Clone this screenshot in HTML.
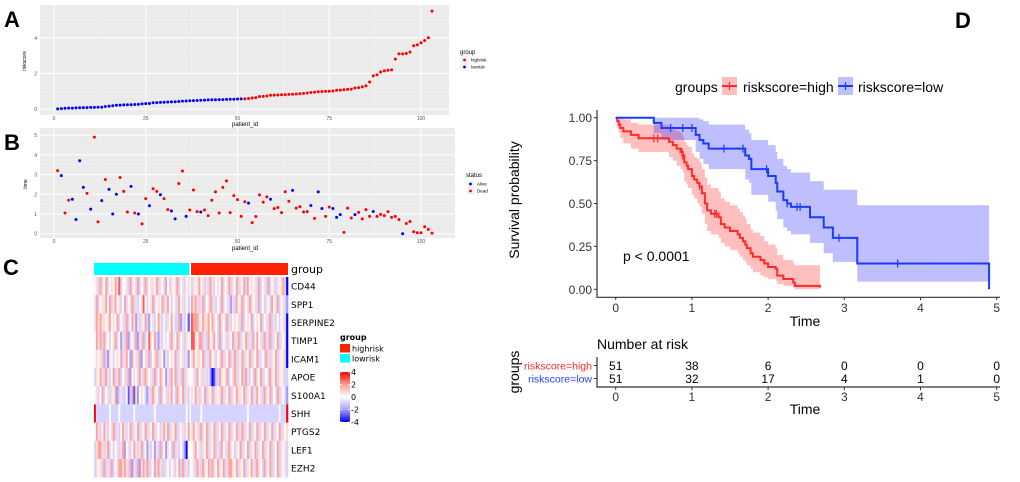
<!DOCTYPE html>
<html><head><meta charset="utf-8"><style>
html,body{margin:0;padding:0;background:#fff}
svg{display:block;font-family:"Liberation Sans",sans-serif}
</style></head><body>
<svg id="fig" width="1020" height="482" viewBox="0 0 1020 482" xmlns="http://www.w3.org/2000/svg">
<g id="gA"></g>
<g id="gB"></g>
<g id="gC"></g>
<g id="gD"></g>
</svg>
<script>
// ---------- Panel A data ----------
const riskLow=[0.01,0.02,0.04,0.05,0.05,0.06,0.07,0.08,0.08,0.09,0.09,0.10,0.10,0.14,0.16,0.18,0.21,0.22,0.23,0.24,0.24,0.25,0.26,0.29,0.30,0.31,0.35,0.36,0.37,0.38,0.39,0.40,0.41,0.42,0.44,0.45,0.46,0.47,0.48,0.49,0.50,0.51,0.52,0.52,0.53,0.53,0.54,0.55,0.55,0.56,0.57];
const riskHigh=[0.57,0.59,0.62,0.64,0.70,0.71,0.73,0.77,0.78,0.79,0.80,0.81,0.82,0.83,0.84,0.86,0.88,0.90,0.93,0.95,0.97,0.98,0.99,1.00,1.01,1.05,1.06,1.08,1.10,1.12,1.18,1.20,1.24,1.30,1.52,1.86,1.92,2.08,2.14,2.18,2.20,2.80,3.10,3.10,3.12,3.20,3.55,3.60,3.72,3.85,4.00,5.50];
const aYTicks=[0,2,4];
const xTicksPid=[0,25,50,75,100];
// ---------- Panel B data ----------
const bTime=[3.2,2.95,1.05,1.7,1.75,0.72,3.7,2.35,2.05,1.25,4.9,0.6,1.68,2.75,2.25,1.0,2.0,2.85,2.15,1.1,2.4,1.05,1.0,0.5,1.78,1.42,2.28,2.15,1.98,1.78,1.22,1.15,0.75,2.55,3.18,0.88,1.2,2.22,1.12,1.1,1.2,0.92,1.7,2.12,1.05,2.35,2.68,1.07,1.93,1.73,0.88,1.62,1.55,0.56,0.87,1.97,1.6,1.87,1.75,1.27,1.33,1.07,2.13,1.65,2.2,1.3,1.37,1.1,1.12,1.43,0.78,2.12,1.28,0.88,1.35,1.28,0.83,0.97,0.07,1.3,0.8,0.97,1.08,0.75,1.22,0.88,1.13,0.88,0.98,0.92,1.12,0.83,0.88,0.72,0.0,0.52,0.62,0.1,0.05,0.05,0.35,0.22,0.03];
const bStatus="DADDAAAADADDADAAADDDADADDADDADDAADDADDDADDDDDDDDDDDDADDDDDADDDDDADDDDADAADDAAADDDADDDDADDDDDDDADDDDDDD";
const bYTicks=[0,1,2,3,4,5];
// ---------- Panel C data ----------
const genes=["CD44","SPP1","SERPINE2","TIMP1","ICAM1","APOE","S100A1","SHH","PTGS2","LEF1","EZH2"];
const heatLow=[
"453654634546573445365436345634554635436435456345345",
"563455646356453463456353457434563454635643453645343",
"565655456454634536346525354632453465343546433625341",
"465636543456342536254362536347546325345436546345354",
"454536325434546356426453624536345635425345463545352",
"354653653463563453624543653654536346542536463536354",
"453463453546235334136152454325365436345356436546353",
"833333334333343333333433333333334333333333333333343",
"465346534563534653463546354635463543564635463545346",
"356653563434535624534653563425342536342543635343204",
"354536353634566565362536256563546365335434534636353"];
const heatHigh=[
"3545645353653454634563546354636454536345363453545630",
"6565356345635345634532536456345634536343543645634532",
"7666546556465436543653454536345463454634536353434530",
"7754663536456436345354635635463536464536536354635430",
"5645546353645345635463563546354635463543653546354530",
"4536453535201336545634563546365343654635436546354533",
"5465354635463545635463546554635463564536546345635432",
"3333343333333333333333333333334333333333333333343338",
"5645365463546354635463546356354635463546354635463545",
"4564535463546353645365435463546354635463546354635453",
"4536536546365465463566546354635465365436546354635453"];
const cbTicks=[4,2,0,-2,-4];
// ---------- Panel D data ----------
const redT=[0,0.02,0.04,0.06,0.1,0.2,0.3,0.7,0.75,0.8,0.85,0.88,0.9,0.93,0.95,1.0,1.03,1.07,1.1,1.13,1.17,1.2,1.25,1.35,1.38,1.43,1.5,1.6,1.63,1.67,1.7,1.72,1.77,1.8,1.9,1.95,2.0,2.1,2.12,2.2,2.33,2.35];
const redS=[1,.98,.96,.94,.92,.90,.88,.86,.84,.82,.80,.78,.74,.72,.70,.66,.64,.62,.60,.56,.50,.46,.44,.42,.38,.36,.34,.32,.30,.28,.26,.24,.21,.19,.17,.15,.13,.12,.08,.06,.04,.02];
const redU=[1,1,1,1,.99,.97,.96,.95,.93,.92,.91,.89,.86,.84,.83,.79,.77,.76,.74,.70,.65,.61,.59,.57,.53,.51,.49,.47,.45,.43,.41,.38,.35,.33,.31,.28,.26,.24,.20,.17,.15,.14];
const redL=[1,.94,.91,.88,.85,.82,.80,.77,.75,.72,.70,.68,.63,.61,.59,.55,.53,.50,.48,.44,.38,.34,.32,.30,.27,.25,.23,.21,.19,.17,.16,.14,.12,.10,.08,.07,.06,.05,.03,.02,.01,0];
const redEnd=2.68;
const redCens=[0.5,0.55,0.87,0.88,1.1,1.3,1.32];
const bluT=[0,0.5,0.6,1.05,1.1,1.15,1.22,1.7,1.75,1.78,2.0,2.1,2.12,2.2,2.25,2.3,2.55,2.73,2.85,3.17];
const bluS=[1,.97,.94,.90,.87,.85,.82,.78,.76,.70,.66,.62,.57,.52,.50,.48,.42,.36,.30,.15];
const bluU=[1,1,1,1,.99,.98,.96,.93,.91,.87,.84,.80,.76,.72,.70,.68,.63,.58,.58,.49];
const bluL=[1,.91,.87,.80,.76,.73,.70,.64,.62,.55,.51,.46,.41,.36,.34,.32,.27,.21,.16,.045];
const bluEnd=4.9;
const bluCens=[0.72,0.88,1.0,1.42,1.67,1.98,2.25,2.38,2.42,2.93,3.7];
const kmXTicks=[0,1,2,3,4,5];
const kmYTicks=[0,0.25,0.5,0.75,1];
const riskHighN=[51,38,6,0,0,0];
const riskLowN=[51,32,17,4,1,0];

const NS="http://www.w3.org/2000/svg";
function mk(parent,tag,attrs,txt){const e=document.createElementNS(NS,tag);for(const k in attrs)e.setAttribute(k,attrs[k]);if(txt!==undefined)e.textContent=txt;parent.appendChild(e);return e;}

// ===== Panel A =====
(function(){
const g=document.getElementById('gA');
const xA=p=>54+p*3.67, yA=v=>109-v*17.8;
const t=mk(g,'text',{x:4,y:27,'font-size':22,'font-weight':'bold'},'A');


const bg=mk(g,'rect',{x:40,y:5,width:409,height:110,fill:'#ebebeb'});


[12.5,37.5,62.5,87.5].forEach(p=>mk(g,'line',{x1:xA(p),x2:xA(p),y1:5,y2:115,stroke:'#f5f5f5','stroke-width':0.5}));
[1,3,5].forEach(v=>mk(g,'line',{x1:40,x2:449,y1:yA(v),y2:yA(v),stroke:'#f5f5f5','stroke-width':0.5}));
xTicksPid.forEach(p=>{mk(g,'line',{x1:xA(p),x2:xA(p),y1:5,y2:115,stroke:'#fff','stroke-width':1});
 const l=mk(g,'text',{x:xA(p),y:120,'font-size':5,fill:'#555','text-anchor':'middle'},p);
 
 });
aYTicks.forEach(v=>{mk(g,'line',{x1:40,x2:449,y1:yA(v),y2:yA(v),stroke:'#fff','stroke-width':1});
 const l=mk(g,'text',{x:37,y:yA(v)+2,'font-size':5,fill:'#555','text-anchor':'end'},v);
 
 });
const all=riskLow.concat(riskHigh);
all.forEach((v,i)=>{const c=mk(g,'circle',{cx:xA(i+1),cy:yA(v),r:1.5,fill:i<riskLow.length?'#0000ff':'#ff0000'});
 
 });
const xl=mk(g,'text',{x:245,y:126,'font-size':6,'text-anchor':'middle'},'patient_id');


const yl=mk(g,'text',{x:0,y:0,'font-size':5,'text-anchor':'middle',transform:'translate(26,61) rotate(-90)'},'riskscore');


const lt=mk(g,'text',{x:460,y:54,'font-size':6},'group');


[['highrisk','#ff0000',60],['lowrisk','#0000ff',67]].forEach(([n,c,y])=>{
 mk(g,'rect',{x:461,y:y-3.5,width:7,height:7,fill:'#f2f2f2'});
 mk(g,'circle',{cx:464.5,cy:y,r:1.4,fill:c});
 const e=mk(g,'text',{x:471,y:y+1.7,'font-size':4.5},n);
 
 });
})();

// ===== Panel B =====
(function(){
const g=document.getElementById('gB');
const xB=p=>54+p*3.67, yB=v=>233.7-v*19.7;
const t=mk(g,'text',{x:4,y:150,'font-size':22,'font-weight':'bold'},'B');


const bg=mk(g,'rect',{x:40,y:128,width:415,height:110,fill:'#ebebeb'});


[12.5,37.5,62.5,87.5].forEach(p=>mk(g,'line',{x1:xB(p),x2:xB(p),y1:128,y2:238,stroke:'#f5f5f5','stroke-width':0.5}));
[0.5,1.5,2.5,3.5,4.5].forEach(v=>mk(g,'line',{x1:40,x2:455,y1:yB(v),y2:yB(v),stroke:'#f5f5f5','stroke-width':0.5}));
xTicksPid.forEach(p=>{mk(g,'line',{x1:xB(p),x2:xB(p),y1:128,y2:238,stroke:'#fff','stroke-width':1});
 const l=mk(g,'text',{x:xB(p),y:243,'font-size':5,fill:'#555','text-anchor':'middle'},p);
 
 });
bYTicks.forEach(v=>{mk(g,'line',{x1:40,x2:455,y1:yB(v),y2:yB(v),stroke:'#fff','stroke-width':1});
 const l=mk(g,'text',{x:37,y:yB(v)+2,'font-size':5,fill:'#555','text-anchor':'end'},v);
 
 });
bTime.forEach((v,i)=>{const c=mk(g,'circle',{cx:xB(i+1),cy:yB(v),r:1.5,fill:bStatus[i]==='A'?'#0000ff':'#ff0000'});
 
 });
const xl=mk(g,'text',{x:245,y:250,'font-size':6,'text-anchor':'middle'},'patient_id');


const yl=mk(g,'text',{x:0,y:0,'font-size':5,'text-anchor':'middle',transform:'translate(27,184) rotate(-90)'},'time');


const lt=mk(g,'text',{x:466,y:177,'font-size':6},'status');


[['Alive','#0000ff',184],['Dead','#ff0000',191]].forEach(([n,c,y])=>{
 mk(g,'rect',{x:467,y:y-3.5,width:7,height:7,fill:'#f2f2f2'});
 mk(g,'circle',{cx:470.5,cy:y,r:1.4,fill:c});
 const e=mk(g,'text',{x:477,y:y+1.7,'font-size':4.5},n);
 
 });
})();

// ===== Panel C =====
(function(){
const g=document.getElementById('gC');
const t=mk(g,'text',{x:3,y:275,'font-size':22,'font-weight':'bold'},'C');


function col(v){v=Math.max(-4,Math.min(4,v));const f=Math.pow(Math.abs(v)/4,1.5);
 if(v>=0){const gg=Math.round(250*(1-f)),bb=Math.round(248*(1-f));return `rgb(255,${gg},${bb})`;}
 const r=Math.round(245*(1-f)),gg=Math.round(242*(1-f));return `rgb(${r},${gg},255)`;}
const L0=94,L1=189.5,H0=191,H1=288,top=277,rowH=18.2;
const a1=mk(g,'rect',{x:L0,y:263,width:L1-L0,height:12,fill:'#00ffff'});


const a2=mk(g,'rect',{x:H0,y:263,width:H1-H0,height:12,fill:'#ff2200'});


const at=mk(g,'text',{x:291,y:273,'font-size':11,'font-family':'DejaVu Sans, sans-serif'},'group');


genes.forEach((gn,r)=>{
 const y=top+r*rowH;
 [[heatLow[r],L0,L1],[heatHigh[r],H0,H1]].forEach(([s,x0,x1])=>{
  const w=(x1-x0)/s.length;
  for(let i=0;i<s.length;i++){
   const c=mk(g,'rect',{x:(x0+i*w).toFixed(2),y:y,width:(w+0.3).toFixed(2),height:rowH+0.3,fill:col(parseInt(s[i])-4)});
   
   
  }});
 const l=mk(g,'text',{x:291,y:y+rowH/2+3.5,'font-size':9,'font-family':'DejaVu Sans, sans-serif'},gn);
 
 
});
const lt=mk(g,'text',{x:340,y:340,'font-size':8,'font-weight':'bold','font-family':'DejaVu Sans, sans-serif'},'group');


[['highrisk','#ff2200',344],['lowrisk','#00ffff',354]].forEach(([n,c,y])=>{
 mk(g,'rect',{x:340,y:y,width:10,height:8.5,fill:c});
 const e=mk(g,'text',{x:352,y:y+7.5,'font-size':8,'font-family':'DejaVu Sans, sans-serif'},n);
 
 });
const defs=mk(g,'defs',{});
const lg=mk(defs,'linearGradient',{id:'cbg',x1:0,y1:0,x2:0,y2:1});
mk(lg,'stop',{offset:'0%','stop-color':'#ff0000'});
mk(lg,'stop',{offset:'25%','stop-color':'#f8a090'});
mk(lg,'stop',{offset:'50%','stop-color':'#ffffff'});
mk(lg,'stop',{offset:'75%','stop-color':'#a8a0f8'});
mk(lg,'stop',{offset:'100%','stop-color':'#0000f5'});
const cb=mk(g,'rect',{x:340,y:372,width:10,height:50,fill:'url(#cbg)'});


cbTicks.forEach(v=>{const y=397-v*6.25;
 mk(g,'line',{x1:340,x2:342,y1:y,y2:y,stroke:'#fff','stroke-width':0.8});
 mk(g,'line',{x1:348,x2:350,y1:y,y2:y,stroke:'#fff','stroke-width':0.8});
 const e=mk(g,'text',{x:351,y:y+3,'font-size':8,'font-family':'DejaVu Sans, sans-serif'},v<0?'-'+(-v):v);
 
 });
})();

// ===== Panel D =====
(function(){
const g=document.getElementById('gD');
const X=t=>615.7+t*76.2, Y=s=>289.3-s*171.6;
const t=mk(g,'text',{x:955,y:28,'font-size':22,'font-weight':'bold'},'D');


function stepPath(T,S,end){let d=`M${X(T[0])},${Y(S[0])}`;for(let i=1;i<T.length;i++){d+=`H${X(T[i])}V${Y(S[i])}`;}d+=`H${X(end)}`;return d;}
function band(T,U,Lo,end){let up=`M${X(T[0])},${Y(U[0])}`;for(let i=1;i<T.length;i++)up+=`H${X(T[i])}V${Y(U[i])}`;up+=`H${X(end)}V${Y(Lo[Lo.length-1])}`;
 for(let i=T.length-1;i>0;i--){up+=`H${X(T[i])}V${Y(Lo[i-1])}`;}up+=`H${X(T[0])}Z`;return up;}
const rb=mk(g,'path',{d:band(redT,redU,redL,redEnd),fill:'#ff0000','fill-opacity':0.25});


const bb=mk(g,'path',{d:band(bluT,bluU,bluL,bluEnd),fill:'#0000ff','fill-opacity':0.25});


const rl=mk(g,'path',{d:stepPath(redT,redS,redEnd)+`V${Y(0.01)}`,fill:'none',stroke:'#ff2a2a','stroke-width':2});


const bl=mk(g,'path',{d:stepPath(bluT,bluS,bluEnd)+`V${Y(0)}`,fill:'none',stroke:'#1a3cff','stroke-width':2});


function sAt(T,S,t){let s=S[0];for(let i=0;i<T.length;i++)if(T[i]<=t)s=S[i];return s;}
redCens.forEach(c=>{const y=Y(sAt(redT,redS,c));const m=mk(g,'line',{x1:X(c),x2:X(c),y1:y-4,y2:y+4,stroke:'#ff2a2a','stroke-width':1.2});
 
 });
bluCens.forEach(c=>{const y=Y(sAt(bluT,bluS,c));const m=mk(g,'line',{x1:X(c),x2:X(c),y1:y-4,y2:y+4,stroke:'#1a3cff','stroke-width':1.2});
 
 });
mk(g,'line',{x1:597,x2:597,y1:110,y2:297.5,stroke:'#333','stroke-width':1.2});
mk(g,'line',{x1:596.5,x2:1000,y1:297.3,y2:297.3,stroke:'#333','stroke-width':1.2});
kmYTicks.forEach(v=>{mk(g,'line',{x1:594,x2:597,y1:Y(v),y2:Y(v),stroke:'#333'});
 const l=mk(g,'text',{x:592,y:Y(v)+4.5,'font-size':12,fill:'#333','text-anchor':'end'},v.toFixed(2));
 
 });
kmXTicks.forEach(v=>{mk(g,'line',{x1:X(v),x2:X(v),y1:297,y2:300,stroke:'#333'});
 const l=mk(g,'text',{x:X(v),y:312,'font-size':12,fill:'#333','text-anchor':'middle'},v);
 
 });
const xt=mk(g,'text',{x:805,y:326,'font-size':14,'text-anchor':'middle'},'Time');


const yt=mk(g,'text',{x:0,y:0,'font-size':14,'text-anchor':'middle',transform:'translate(519,200) rotate(-90)'},'Survival probability');


const pv=mk(g,'text',{x:623,y:261,'font-size':14},'p < 0.0001');


// legend
const lg=mk(g,'text',{x:675,y:92,'font-size':14},'groups');


[['riskscore=high','#ff0000','#ff2a2a',722,743],['riskscore=low','#0000ff','#1a3cff',838,858]].forEach(([n,f,s,kx,tx])=>{
 mk(g,'rect',{x:kx,y:77,width:15,height:18,fill:f,'fill-opacity':0.25});
 mk(g,'line',{x1:kx,x2:kx+15,y1:86,y2:86,stroke:s,'stroke-width':2});
 mk(g,'line',{x1:kx+7.5,x2:kx+7.5,y1:82,y2:90,stroke:s,'stroke-width':1.2});
 const e=mk(g,'text',{x:tx,y:92,'font-size':14},n);
 
 });
// risk table
const nr=mk(g,'text',{x:597,y:349,'font-size':14},'Number at risk');


mk(g,'line',{x1:597,x2:597,y1:357,y2:387.5,stroke:'#333','stroke-width':1.2});
mk(g,'line',{x1:596.5,x2:1000,y1:387,y2:387,stroke:'#333','stroke-width':1.2});
[[riskHighN,'riskscore=high','#ff2a2a',365.5],[riskLowN,'riskscore=low','#2a3cff',378.5]].forEach(([arr,n,c,y])=>{
 mk(g,'line',{x1:594,x2:597,y1:y,y2:y,stroke:'#333'});
 const l=mk(g,'text',{x:592,y:y+4,'font-size':10.5,fill:c,'text-anchor':'end'},n);
 
 
 arr.forEach((v,i)=>{const e=mk(g,'text',{x:X(kmXTicks[i]),y:y+4.5,'font-size':12,'text-anchor':'middle'},v);
  
  });});
kmXTicks.forEach(v=>{mk(g,'line',{x1:X(v),x2:X(v),y1:387,y2:390,stroke:'#333'});
 const l=mk(g,'text',{x:X(v),y:401,'font-size':12,fill:'#333','text-anchor':'middle'},v);
 
 });
const xt2=mk(g,'text',{x:805,y:414,'font-size':14,'text-anchor':'middle'},'Time');


const gy=mk(g,'text',{x:0,y:0,'font-size':14,'text-anchor':'middle',transform:'translate(519,372) rotate(-90)'},'groups');


})();
</script>
</body></html>
